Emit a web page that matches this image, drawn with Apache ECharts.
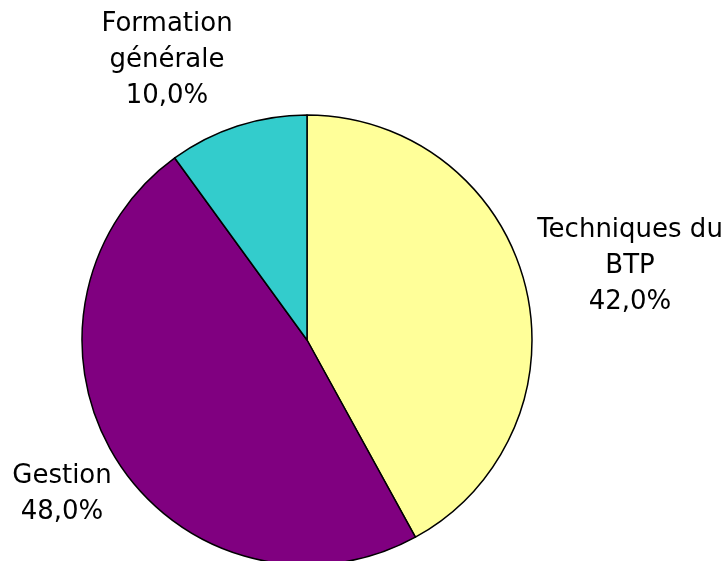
<!DOCTYPE html>
<html>
<head>
<meta charset="utf-8">
<script src="https://cdn.jsdelivr.net/npm/echarts@6/dist/echarts.min.js"></script>
<style>
  html, body { margin: 0; padding: 0; background: #fff; }
  #chart { width: 728px; height: 561px; }
</style>
</head>
<body>
<div id="chart"></div>
<script>
const categories = ['Techniques du BTP', 'Gestion', 'Formation générale'];
const values = [42, 48, 10];
const colors = ['#FFFF99', '#800080', '#33CCCC'];

// label anchor points (block centres)
const labelPos = [[630, 266], [62, 494], [167, 60]];

const chart = echarts.init(document.getElementById('chart'));

const option = {
  animation: false,
  backgroundColor: '#fff',
  series: [
    {
      type: 'pie',
      center: [307, 340],
      radius: 225,
      startAngle: 90,
      clockwise: true,
      data: categories.map((name, i) => ({
        name: name,
        value: values[i],
        itemStyle: { color: colors[i] }
      })),
      itemStyle: {
        borderColor: '#000',
        borderWidth: 1.5
      },
      label: {
        show: true,
        position: 'outside',
        alignTo: 'none',
        overflow: 'none',
        fontFamily: 'DejaVu Sans',
        fontSize: 26,
        lineHeight: 36,
        color: '#000',
        align: 'center',
        formatter: (p) => {
          const idx = p.name.lastIndexOf(' ');
          const name = idx > 0 ? p.name.slice(0, idx) + '\n' + p.name.slice(idx + 1) : p.name;
          return name + '\n' + p.percent.toFixed(1).replace('.', ',') + '%';
        }
      },
      labelLine: { show: false },
      labelLayout: (params) => ({
        x: labelPos[params.dataIndex][0],
        y: labelPos[params.dataIndex][1],
        align: 'center',
        verticalAlign: 'middle'
      }),
      emphasis: { disabled: true }
    }
  ]
};

chart.setOption(option);

window.addEventListener('resize', () => {
  chart?.resize();
});
</script>
</body>
</html>
